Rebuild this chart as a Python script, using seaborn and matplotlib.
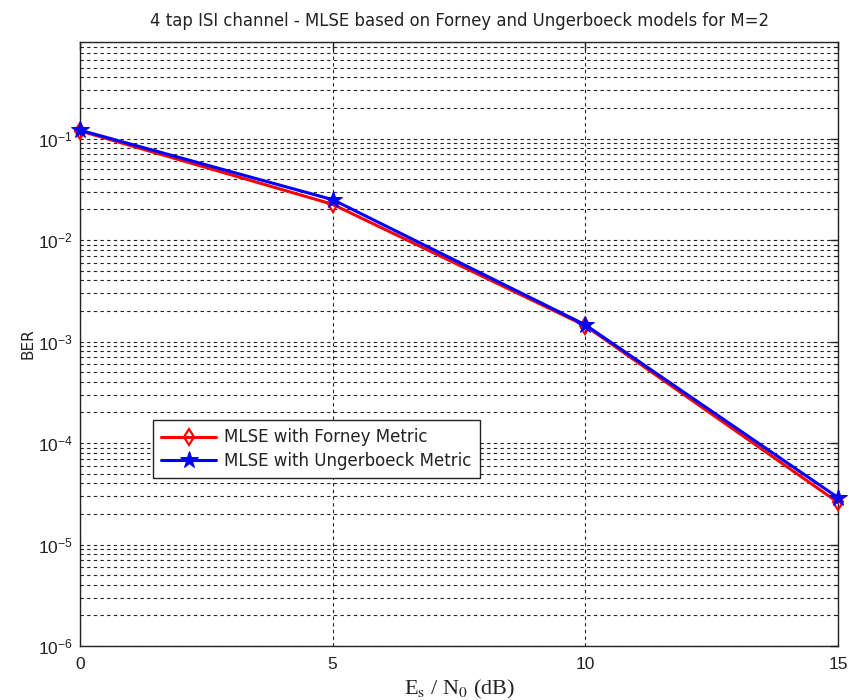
import numpy as np
import pandas as pd
import seaborn as sns
import matplotlib
matplotlib.use("Agg")
import matplotlib.pyplot as plt
from matplotlib.ticker import FixedLocator, FixedFormatter, LogLocator, NullFormatter

# ---- data ----
snr_db = [0, 5, 10, 15]
ber_forney = [0.119, 0.0225, 0.00143, 2.6e-5]
ber_ungerboeck = [0.121, 0.0250, 0.00146, 2.9e-5]
series_names = ["MLSE with Forney Metric", "MLSE with Ungerboeck Metric"]
x_ticks = [0, 5, 10, 15]
y_ticks = [1e-6, 1e-5, 1e-4, 1e-3, 1e-2, 1e-1]
y_tick_labels = [r"$\mathregular{10^{-6}}$", r"$\mathregular{10^{-5}}$", r"$\mathregular{10^{-4}}$",
                 r"$\mathregular{10^{-3}}$", r"$\mathregular{10^{-2}}$", r"$\mathregular{10^{-1}}$"]
title = "4 tap ISI channel - MLSE based on Forney and Ungerboeck models for M=2"

sns.set_style("white")
plt.rcParams["font.family"] = ["Liberation Sans", "DejaVu Sans"]
plt.rcParams["mathtext.fontset"] = "custom"
plt.rcParams["mathtext.rm"] = "Liberation Sans"
plt.rcParams["mathtext.it"] = "Liberation Sans:italic"

df = pd.DataFrame({
    "snr": snr_db * 2,
    "ber": ber_forney + ber_ungerboeck,
    "metric": [series_names[0]] * 4 + [series_names[1]] * 4,
})

fig = plt.figure(figsize=(8.49, 7.0), dpi=100)
ax = fig.add_axes([80 / 849, 1 - 646 / 700, (838 - 80) / 849, (646 - 41.7) / 700])

grid_kw = dict(color="#222222", linestyle=(0, (3, 3)), linewidth=0.8)

sub_f = df[df.metric == series_names[0]]
sub_u = df[df.metric == series_names[1]]
sns.lineplot(data=sub_f, x="snr", y="ber", ax=ax, color="#ff0000", linewidth=2.2,
             marker="d", markersize=8, markerfacecolor="none", markeredgecolor="#ff0000",
             markeredgewidth=1.6, label=series_names[0], zorder=3, clip_on=False)
sns.lineplot(data=sub_u, x="snr", y="ber", ax=ax, color="#0000ff", linewidth=2.2,
             marker="*", markersize=13, markerfacecolor="#0000ff", markeredgecolor="#0000ff",
             label=series_names[1], zorder=4, clip_on=False)

ax.set_yscale("log")
ax.set_xlim(0, 15)
ax.set_ylim(1e-6, 0.9)

ax.xaxis.set_major_locator(FixedLocator(x_ticks))
ax.yaxis.set_major_locator(FixedLocator(y_ticks))
ax.yaxis.set_major_formatter(FixedFormatter(y_tick_labels))
ax.yaxis.set_minor_locator(LogLocator(base=10, subs=np.arange(2, 10) * 1.0, numticks=20))
ax.yaxis.set_minor_formatter(NullFormatter())

ax.grid(True, which="major", axis="both", **grid_kw)
ax.grid(True, which="minor", axis="y", **grid_kw)
ax.set_axisbelow(True)

ax.tick_params(axis="both", which="both", direction="in", top=True, right=True,
               labelsize=12.5, colors="#222222")
ax.tick_params(axis="both", which="major", length=6, width=1)
ax.tick_params(axis="y", which="minor", length=3, width=0.8)
ax.tick_params(axis="x", pad=8)
ax.tick_params(axis="y", pad=5)
for lbl in ax.get_yticklabels():
    lbl.set_verticalalignment("center_baseline")
for s in ax.spines.values():
    s.set_color("#222222")
    s.set_linewidth(1.0)
    s.set_visible(True)

ax.set_title(title, fontsize=11.9, color="#222222", pad=11, family=["DejaVu Sans"])
ax.set_ylabel("BER", fontsize=11, color="#222222", labelpad=2, family=["DejaVu Sans"])
ax.set_xlabel(r"E$_\mathrm{s}$ / N$_\mathrm{0}$ (dB)", fontsize=16, color="#222222",
              family=["Liberation Serif"], math_fontfamily="stix", labelpad=4)

leg = ax.legend(loc="upper left", bbox_to_anchor=((153 - 80) / 758, (646 - 420) / 604.3),
                borderaxespad=0, prop={"family": "DejaVu Sans", "size": 12},
                frameon=True, fancybox=False,
                edgecolor="#222222", framealpha=1, handlelength=3.3, handletextpad=0.45,
                borderpad=0.5, labelspacing=0.33)
leg.get_frame().set_linewidth(1.0)
for t in leg.get_texts():
    t.set_color("#222222")

fig.savefig("out.png", dpi=100, facecolor="white")
